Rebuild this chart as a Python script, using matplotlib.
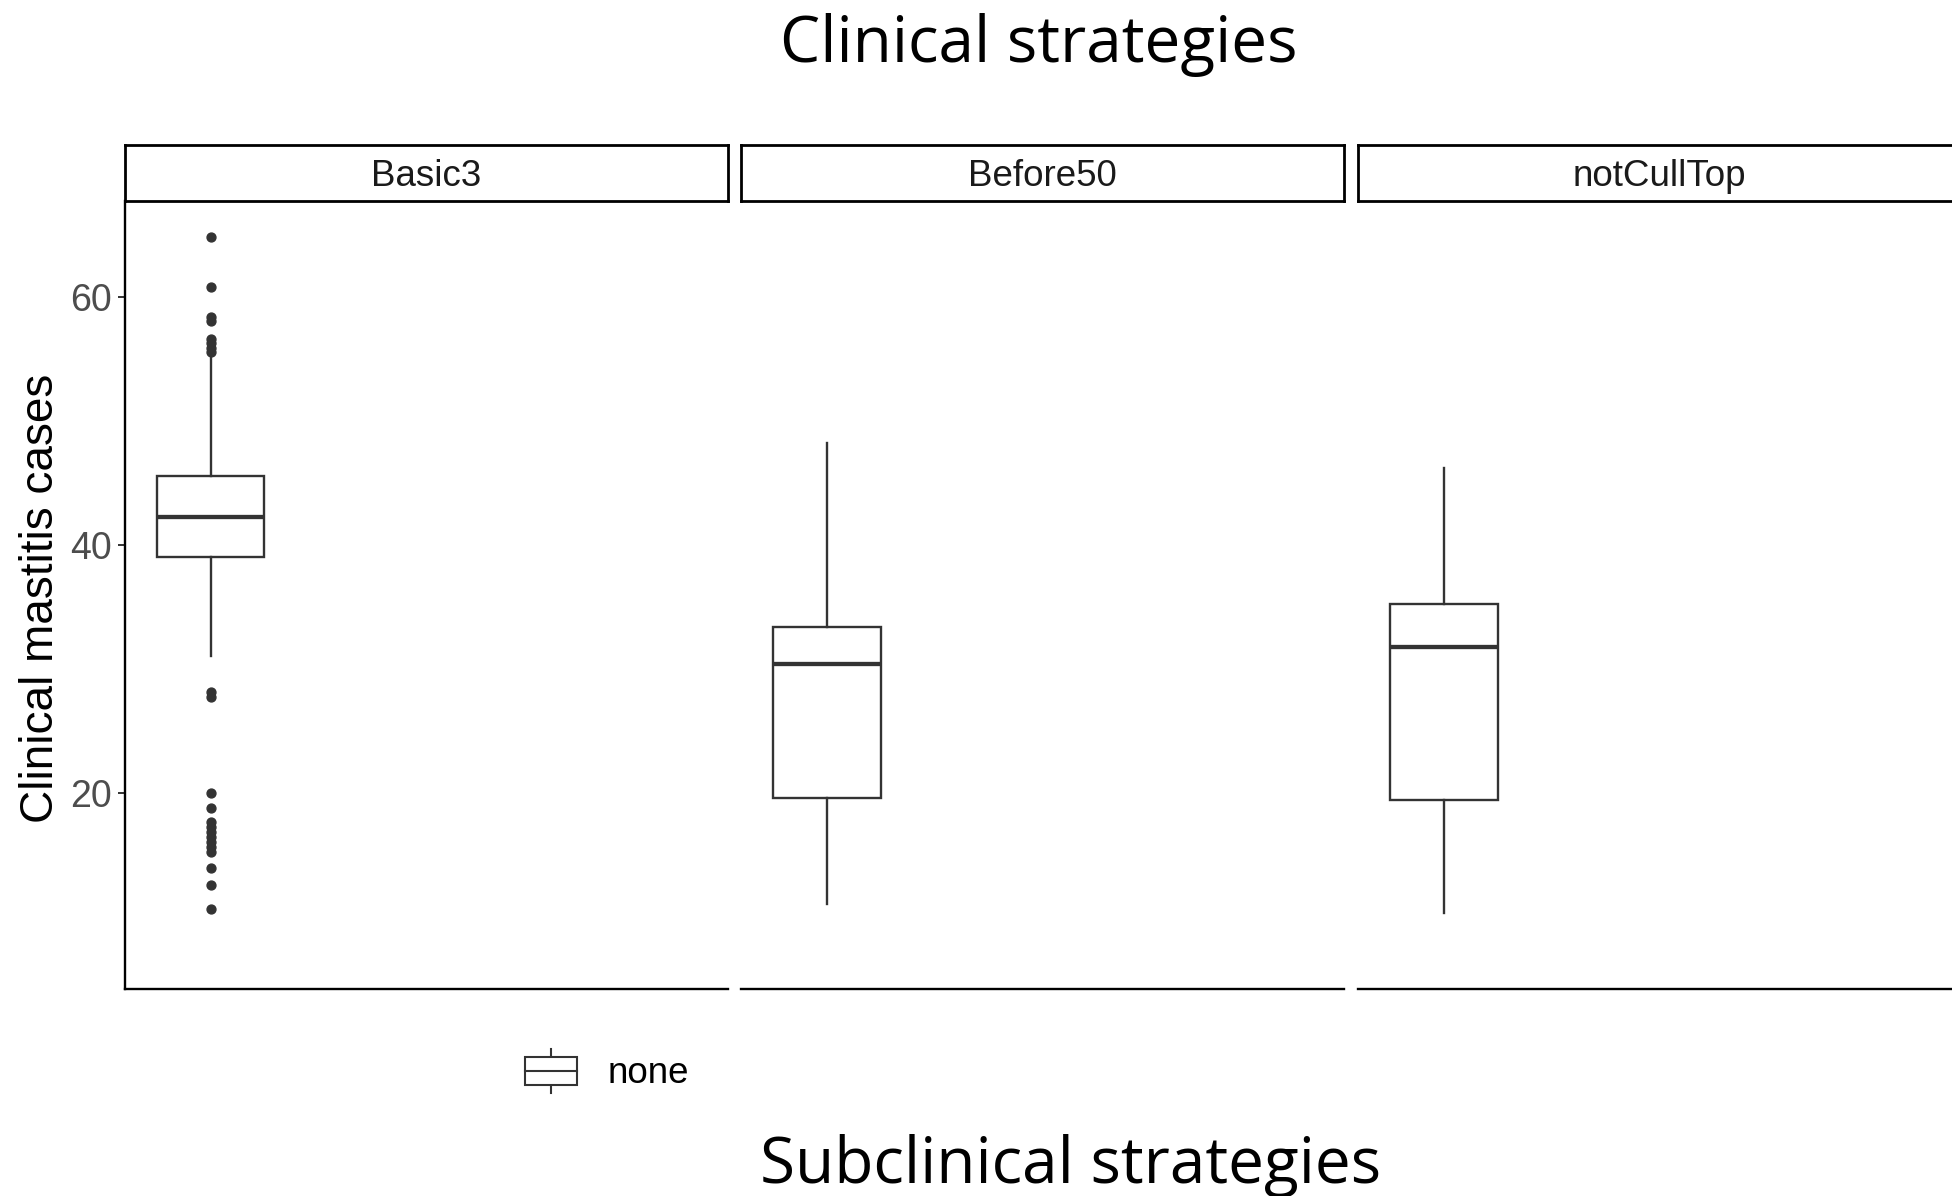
import matplotlib
matplotlib.use("Agg")
import matplotlib.pyplot as plt
from matplotlib.legend_handler import HandlerBase
from matplotlib.patches import Rectangle
from matplotlib.lines import Line2D

# facets (clinical strategies) and the boxplot summary of each
facets = ["Basic3", "Before50", "notCullTop"]
subclinical = ["none"]
medians = [42.2, 30.35, 31.77]
q1s = [39.0, 19.55, 19.41]
q3s = [45.57, 33.39, 35.24]
whisk_lo = [31.02, 11.0, 10.27]
whisk_hi = [55.48, 48.18, 46.16]
outliers = [
    [64.79, 60.76, 58.34, 58.07, 56.56, 56.24, 55.84, 55.57,
     28.15, 27.74, 20.0, 18.74, 17.66, 17.26, 16.85, 16.45, 16.05,
     15.65, 15.24, 13.9, 12.56, 10.6],
    [],
    [],
]
y_ticks = [20, 40, 60]

W, H = 1952, 1196
fig = plt.figure(figsize=(W / 100, H / 100), dpi=100)


def fx(px):
    return px / W


def fy(py):
    return 1 - py / H


dark = "#333333"
lab_font = ["Liberation Sans", "DejaVu Sans"]
head_font = ["Open Sans", "DejaVu Sans"]

panel_left = [124.5, 741, 1358]
panel_w = 603
top, bottom, strip_top = 201, 989.3, 145

for i, name in enumerate(facets):
    ax = fig.add_axes([fx(panel_left[i]), fy(bottom), panel_w / W, (bottom - top) / H])
    stats = [dict(med=medians[i], q1=q1s[i], q3=q3s[i],
                  whislo=whisk_lo[i], whishi=whisk_hi[i], fliers=outliers[i])]
    ax.bxp(stats, positions=[1], widths=[0.75], patch_artist=True, showcaps=False,
           boxprops=dict(facecolor="white", edgecolor=dark, linewidth=1.7),
           medianprops=dict(color=dark, linewidth=3.1, solid_capstyle="butt"),
           whiskerprops=dict(color=dark, linewidth=1.7),
           flierprops=dict(marker="o", markerfacecolor=dark, markeredgecolor=dark,
                           markersize=6.4))
    ax.set_xlim(0.4, 4.6)
    ax.set_ylim(4.15, 67.72)
    ax.set_xticks([])
    for s in ["top", "right"]:
        ax.spines[s].set_visible(False)
    ax.spines["bottom"].set_linewidth(1.7)
    ax.spines["bottom"].set_color("black")
    if i == 0:
        ax.spines["left"].set_linewidth(1.7)
        ax.spines["left"].set_color("black")
        ax.set_yticks(y_ticks)
        ax.set_yticklabels([str(t) for t in y_ticks], family=lab_font,
                           fontsize=27, color="#4D4D4D")
        ax.tick_params(axis="y", length=5, width=1.4, color=dark, pad=4)
    else:
        ax.spines["left"].set_visible(False)
        ax.set_yticks([])

    # facet strip
    st = fig.add_axes([fx(panel_left[i]), fy(top), panel_w / W, (top - strip_top) / H])
    st.set_xticks([])
    st.set_yticks([])
    for s in st.spines.values():
        s.set_linewidth(2.0)
        s.set_color("black")
    st.text(0.5, 0.43, name, ha="center", va="center", family=lab_font,
            fontsize=26.5, color="#1A1A1A", transform=st.transAxes)

fig.text(fx(1039), fy(62), "Clinical strategies", ha="center", va="baseline",
         family=head_font, fontsize=46)
fig.text(fx(1071), fy(1183), "Subclinical strategies", ha="center", va="baseline",
         family=head_font, fontsize=46)
fig.text(fx(41), fy(598), "Clinical mastitis cases", ha="center", va="center",
         rotation=90, family=lab_font, fontsize=33)


class BoxKey(HandlerBase):
    # little boxplot glyph for the legend
    def create_artists(self, legend, orig_handle, xdescent, ydescent, width, height,
                       fontsize, trans):
        x0 = -xdescent
        y0 = -ydescent
        b_lo, b_hi = y0 + 0.19 * height, y0 + 0.81 * height
        xm = x0 + width / 2
        rect = Rectangle((x0, b_lo), width, b_hi - b_lo, facecolor="white",
                         edgecolor=dark, linewidth=1.5, transform=trans)
        med = Line2D([x0, x0 + width], [y0 + height / 2] * 2, color=dark,
                     linewidth=1.5, transform=trans)
        w1 = Line2D([xm, xm], [y0, b_lo], color=dark, linewidth=1.5, transform=trans)
        w2 = Line2D([xm, xm], [b_hi, y0 + height], color=dark, linewidth=1.5,
                    transform=trans)
        return [w1, w2, rect, med]


handle = Rectangle((0, 0), 1, 1)
fig.legend([handle], subclinical, handler_map={Rectangle: BoxKey()},
           loc="center left", bbox_to_anchor=(fx(525), fy(1071)), frameon=False,
           borderpad=0, borderaxespad=0, handlelength=1.4, handleheight=1.5,
           handletextpad=0.85, prop=dict(family=lab_font, size=26.5))

fig.savefig("out.png", dpi=100, facecolor="white")
